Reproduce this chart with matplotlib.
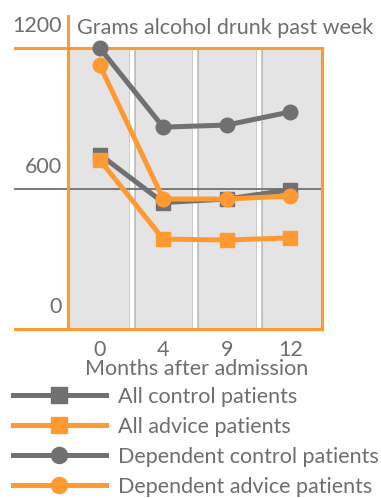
import matplotlib
matplotlib.use("Agg")
import matplotlib.pyplot as plt
import matplotlib.transforms as mtransforms

plt.rcParams['font.family'] = ['Lato', 'DejaVu Sans']

# grams of alcohol drunk in the past week, at each follow-up
months = ["0", "4", "9", "12"]
all_control = [745, 540, 555, 595]
all_advice = [722, 384, 380, 389]
dep_control = [1200, 862, 871, 927]
dep_advice = [1127, 555, 555, 568]
y_marks = [0, 600, 1200]

orange = "#FF9A33"
grey = "#707070"
txt = "#6E6E6E"
fs = 15.5

fig = plt.figure(figsize=(3.81, 4.98), dpi=100)
ax = fig.add_axes([68 / 381, 169 / 498, 254 / 381, 281 / 498])
ax.set_facecolor("#E4E4E4")

x = list(range(len(months)))
ax.set_xlim(-0.5, len(months) - 0.5)
ax.set_ylim(0, 1200)

# white separators between the columns
for sep in [0.5, 1.5, 2.5]:
    ax.axvline(sep, color="#BDBDBD", lw=5, zorder=1)
    ax.axvline(sep, color="white", lw=3.2, zorder=1)

# reference line at 600 and the orange frame lines running out to the labels
ax.axhline(600, xmin=-0.21, xmax=1, color=grey, lw=1.3, clip_on=False, zorder=2)
for yv in [0, 1200]:
    ax.axhline(yv, xmin=-0.21, xmax=1, color=orange, lw=2.2, clip_on=False, zorder=2)
ax.plot([-0.5, -0.5], [0, 1335], color=orange, lw=2.2, clip_on=False, zorder=2)

for s in ax.spines.values():
    s.set_color(orange)
    s.set_linewidth(2.2)
ax.spines["bottom"].set_visible(False)
ax.spines["top"].set_visible(False)

kw = dict(lw=3.6, markersize=10.5, clip_on=False, zorder=5)
ax.plot(x, all_control, color=grey, marker="s", label="All control patients", **kw)
ax.plot(x, all_advice, color=orange, marker="s", label="All advice patients", **kw)
ax.plot(x, dep_control, color=grey, marker="o", label="Dependent control patients", **kw)
ax.plot(x, dep_advice, color=orange, marker="o", label="Dependent advice patients", **kw)

ax.set_yticks([])
ax.set_xticks(x)
ax.set_xticklabels(months, fontsize=fs, color=txt)
ax.tick_params(axis="x", length=0, pad=8)
fig.text(197 / 381, 1 - 375 / 498, "Months after admission", ha="center", va="baseline",
         fontsize=fs, color=txt)

# value labels sit just above their lines, left of the frame
trans = mtransforms.blended_transform_factory(fig.transFigure, ax.transData)
for yv in y_marks:
    ax.text(62 / 381, yv + 68, str(yv), transform=trans, ha="right", va="baseline",
            fontsize=fs, color=txt)

fig.text(77 / 381, 1 - 34 / 498, "Grams alcohol drunk past week", ha="left", va="baseline",
         fontsize=fs, color=txt)

fig.legend(loc="upper left", bbox_to_anchor=(13 / 381, 1 - 387 / 498), frameon=False,
           fontsize=fs, handlelength=4.3, handletextpad=0.6, labelspacing=0.46,
           borderpad=0, borderaxespad=0, labelcolor=txt, markerscale=1.1)

fig.savefig("out.png", dpi=100)
